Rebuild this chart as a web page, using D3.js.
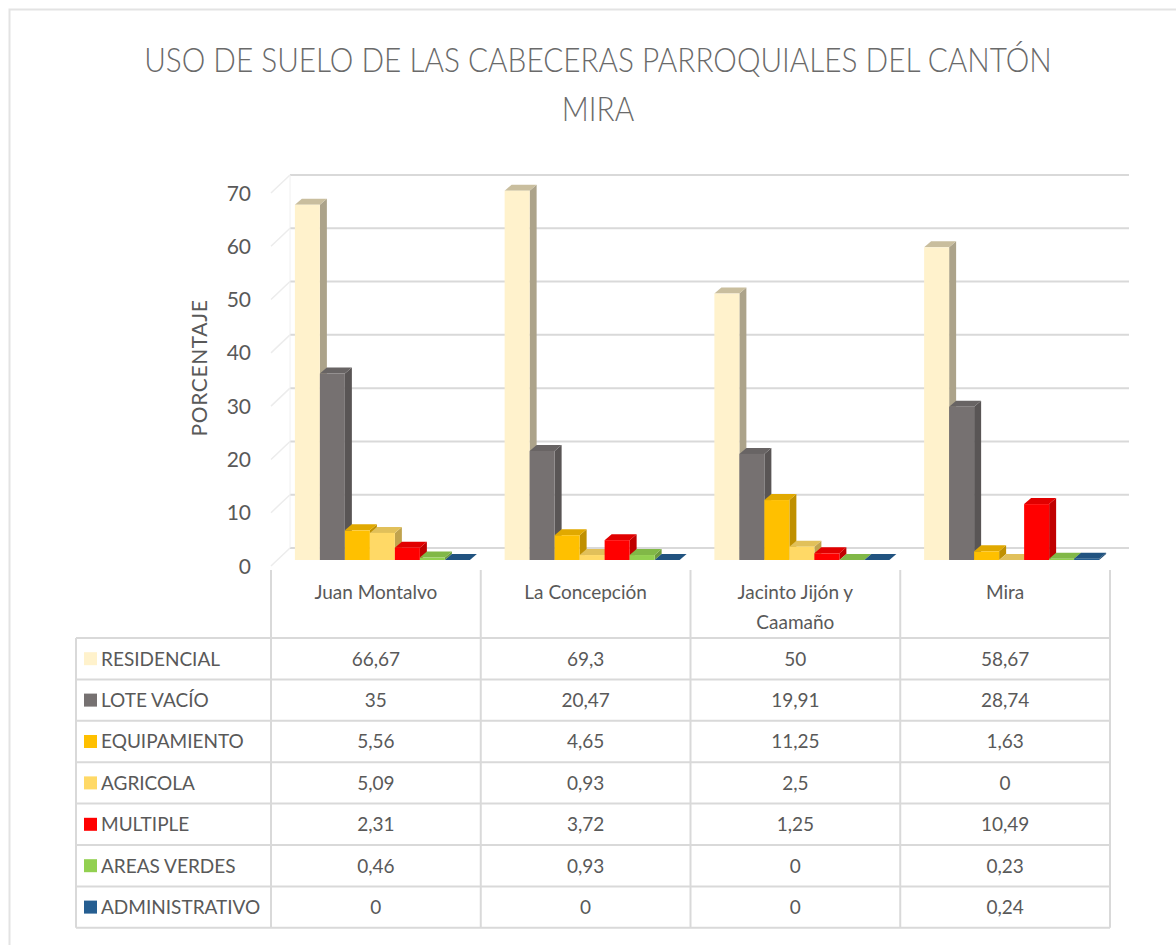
<!DOCTYPE html>
<html>
<head>
<meta charset="utf-8">
<script src="https://cdn.jsdelivr.net/npm/d3@7"></script>
<style>
  body{margin:0;background:#fff;}
  text{font-family:Lato, 'Open Sans', sans-serif;}
</style>
</head>
<body>
<svg id="main"></svg>
<script>
//--------data----------
const categories = ['Juan Montalvo', 'La Concepción', 'Jacinto Jijón y Caamaño', 'Mira'];
const seriesNames = ['RESIDENCIAL', 'LOTE VACÍO', 'EQUIPAMIENTO', 'AGRICOLA', 'MULTIPLE', 'AREAS VERDES', 'ADMINISTRATIVO'];
const seriesColors = ['#FFF2CC', '#767171', '#FFC000', '#FFD966', '#FF0000', '#92D050', '#255E91'];
const residencial = [66.67, 69.3, 50, 58.67];
const loteVacio = [35, 20.47, 19.91, 28.74];
const equipamiento = [5.56, 4.65, 11.25, 1.63];
const agricola = [5.09, 0.93, 2.5, 0];
const multiple = [2.31, 3.72, 1.25, 10.49];
const areasVerdes = [0.46, 0.93, 0, 0.23];
const administrativo = [0, 0, 0, 0.24];
const yTicks = [0, 10, 20, 30, 40, 50, 60, 70];

const seriesValues = [residencial, loteVacio, equipamiento, agricola, multiple, areasVerdes, administrativo];

// //--------code----------
const width = 1176;
const height = 945;
const textColor = '#595959';
const lineColor = '#D9D9D9';

let svg = d3.select('#main')
.attr('width', width)
.attr('height', height)
.style('background', '#fff');

//outer chart border (runs off the picture at right/bottom)
svg.append('rect')
.attr('x', 9.5).attr('y', 9.5)
.attr('width', 1200).attr('height', 960)
.attr('fill', 'none')
.attr('stroke', '#E3E3E3')
.attr('stroke-width', 2);

//title: squeeze horizontally to the narrow look of the original font
let title = svg.append('g').attr('class', 'title');
let t1 = title.append('text')
.attr('text-anchor', 'middle')
.attr('font-size', 34)
.attr('font-weight', 300)
.attr('fill', '#6A6A6A')
.text('USO DE SUELO DE LAS CABECERAS PARROQUIALES DEL CANTÓN');
let k = Math.min(1, 908 / t1.node().getComputedTextLength());
t1.attr('transform', `translate(598,72) scale(${k},1)`);
title.append('text')
.attr('transform', `translate(598,121) scale(${k},1)`)
.attr('text-anchor', 'middle')
.attr('font-size', 34)
.attr('font-weight', 300)
.attr('fill', '#6A6A6A')
.text('MIRA');

//3d frame: front plane and back wall offset
const depth = {dx: 19, dy: -18};
const barDepth = {dx: 7, dy: -6};
const barShift = {dx: 6.5, dy: -6};

let sy = d3.scaleLinear().domain([0, 70]).range([566, 193]);
let sx = d3.scaleBand().domain(categories).range([271, 1110]);
let clusterWidth = 175;
let sx1 = d3.scaleBand().domain(seriesNames).range([0, clusterWidth]);

//side wall diagonals + back wall gridlines
let grid = svg.append('g').attr('class', 'grid');
grid.selectAll('.wall')
.data(yTicks)
.join('line')
.attr('class', 'wall')
.attr('x1', sx.range()[0])
.attr('y1', d => sy(d))
.attr('x2', sx.range()[0] + depth.dx)
.attr('y2', d => sy(d) + depth.dy)
.attr('stroke', '#ECECEC')
.attr('stroke-width', 1.5);
grid.selectAll('.gridline')
.data(yTicks)
.join('line')
.attr('class', 'gridline')
.attr('x1', sx.range()[0] + depth.dx)
.attr('y1', d => sy(d) + depth.dy)
.attr('x2', sx.range()[1] + depth.dx)
.attr('y2', d => sy(d) + depth.dy)
.attr('stroke', lineColor)
.attr('stroke-width', 2);
grid.append('line')
.attr('x1', sx.range()[0] + depth.dx)
.attr('y1', sy(0) + depth.dy)
.attr('x2', sx.range()[0] + depth.dx)
.attr('y2', sy(70) + depth.dy)
.attr('stroke', '#F0F0F0');

//y axis labels
svg.append('g')
.selectAll('.ytick')
.data(yTicks)
.join('text')
.attr('class', 'ytick')
.attr('x', 251)
.attr('y', d => sy(d))
.attr('dy', '0.36em')
.attr('text-anchor', 'end')
.attr('font-size', 21)
.attr('fill', textColor)
.text(d => d);

svg.append('text')
.attr('transform', 'translate(207,368) rotate(-90)')
.attr('text-anchor', 'middle')
.attr('font-size', 21)
.attr('letter-spacing', 0.6)
.attr('fill', textColor)
.text('PORCENTAJE');

//bars
let bars = [];
categories.forEach((c, ci) => {
  seriesNames.forEach((s, si) => {
    bars.push({cat: c, series: s, si: si, value: seriesValues[si][ci]});
  });
});

function barGeom(d){
  let x0 = sx(d.cat) + (sx.bandwidth() - clusterWidth) / 2 + barShift.dx + sx1(d.series);
  let w = sx1.bandwidth();
  let yb = sy(0) + barShift.dy;
  let yt = sy(d.value) + barShift.dy;
  return {x0, w, yb, yt};
}

let barG = svg.append('g').attr('class', 'bars');
let barGroups = barG.selectAll('.bar')
.data(bars)
.join('g')
.attr('class', 'bar');

barGroups.append('path')
.attr('class', 'side')
.attr('d', d => {
  let g = barGeom(d);
  let x1 = g.x0 + g.w;
  return `M${x1},${g.yb}L${x1 + barDepth.dx},${g.yb + barDepth.dy}L${x1 + barDepth.dx},${g.yt + barDepth.dy}L${x1},${g.yt}Z`;
})
.attr('fill', d => d3.color(seriesColors[d.si]).darker(d.si === 0 ? 1.1 : 0.8));

barGroups.append('path')
.attr('class', 'top')
.attr('d', d => {
  let g = barGeom(d);
  let x1 = g.x0 + g.w;
  return `M${g.x0},${g.yt}L${x1},${g.yt}L${x1 + barDepth.dx},${g.yt + barDepth.dy}L${g.x0 + barDepth.dx},${g.yt + barDepth.dy}Z`;
})
.attr('fill', d => d.si === 0 ? '#C9BE9E' : d3.color(seriesColors[d.si]).darker(0.35));

barGroups.append('rect')
.attr('class', 'front')
.attr('x', d => barGeom(d).x0)
.attr('y', d => barGeom(d).yt)
.attr('width', d => barGeom(d).w)
.attr('height', d => barGeom(d).yb - barGeom(d).yt)
.attr('fill', d => seriesColors[d.si]);

//data table
const tableLeft = 76;
const headerTop = 570;
const rowTop = 638;
const rowH = 41.4;
const tableFont = 19;
let table = svg.append('g').attr('class', 'table');

//vertical column lines
let colEdges = sx.domain().map(c => sx(c)).concat([sx.range()[1]]);
table.selectAll('.vline')
.data(colEdges)
.join('line')
.attr('class', 'vline')
.attr('x1', d => d).attr('x2', d => d)
.attr('y1', headerTop)
.attr('y2', rowTop + rowH * seriesNames.length)
.attr('stroke', lineColor)
.attr('stroke-width', 2);
table.append('line')
.attr('x1', tableLeft).attr('x2', tableLeft)
.attr('y1', rowTop)
.attr('y2', rowTop + rowH * seriesNames.length)
.attr('stroke', lineColor)
.attr('stroke-width', 2);
table.selectAll('.hline')
.data(d3.range(seriesNames.length + 1))
.join('line')
.attr('class', 'hline')
.attr('x1', tableLeft)
.attr('x2', sx.range()[1])
.attr('y1', i => rowTop + i * rowH)
.attr('y2', i => rowTop + i * rowH)
.attr('stroke', lineColor)
.attr('stroke-width', 2);

//category headers, wrapped
let headers = table.selectAll('.header')
.data(categories)
.join('text')
.attr('class', 'header')
.attr('x', d => sx(d) + sx.bandwidth() / 2)
.attr('y', 599)
.attr('text-anchor', 'middle')
.attr('font-size', tableFont)
.attr('fill', textColor);
headers.each(function(d){
  let el = d3.select(this);
  let words = d.split(' ');
  let lines = [[]];
  let tmp = el.append('tspan');
  words.forEach(w => {
    let cur = lines[lines.length - 1];
    tmp.text(cur.concat([w]).join(' '));
    if(cur.length > 0 && tmp.node().getComputedTextLength() > 170){
      lines.push([w]);
    }else{
      cur.push(w);
    }
  });
  tmp.remove();
  lines.forEach((l, i) => {
    el.append('tspan')
    .attr('x', sx(d) + sx.bandwidth() / 2)
    .attr('dy', i === 0 ? 0 : 30)
    .text(l.join(' '));
  });
});

//legend keys + names
let rows = table.selectAll('.row')
.data(seriesNames)
.join('g')
.attr('class', 'row')
.attr('transform', (d, i) => `translate(0,${rowTop + i * rowH + rowH / 2})`);
rows.append('rect')
.attr('x', 84).attr('y', -6.5)
.attr('width', 13).attr('height', 13)
.attr('fill', (d, i) => seriesColors[i]);
rows.append('text')
.attr('x', 101)
.attr('dy', '0.36em')
.attr('font-size', tableFont)
.attr('fill', textColor)
.text(d => d);

//values
rows.selectAll('.val')
.data((d, i) => seriesValues[i].map((v, ci) => ({v: v, cat: categories[ci]})))
.join('text')
.attr('class', 'val')
.attr('x', d => sx(d.cat) + sx.bandwidth() / 2)
.attr('dy', '0.36em')
.attr('text-anchor', 'middle')
.attr('font-size', tableFont)
.attr('fill', textColor)
.text(d => String(d.v).replace('.', ','));
</script>
</body>
</html>
